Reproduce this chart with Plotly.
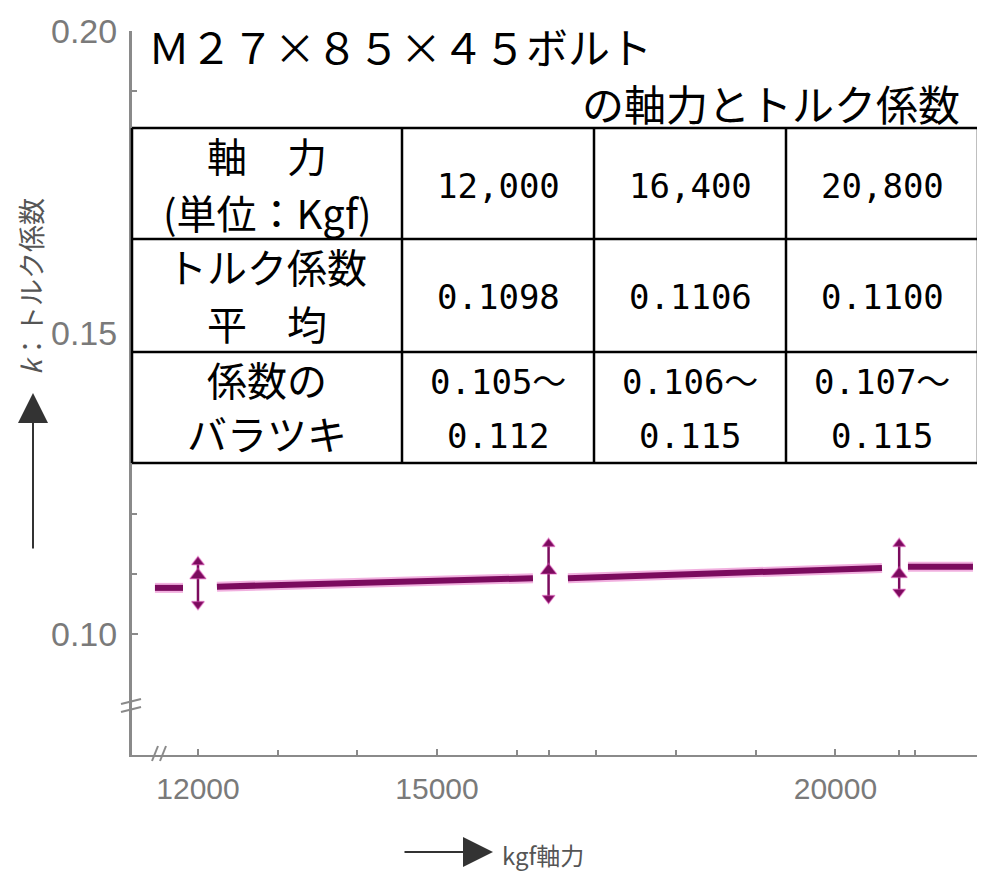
import plotly.graph_objects as go

# ---------------- data ----------------
force = [12000, 16400, 20800]            # 軸力 (kgf)
k_mean = [0.1098, 0.1106, 0.1100]        # トルク係数 平均
k_min = [0.105, 0.106, 0.107]            # バラツキ 下限
k_max = [0.112, 0.115, 0.115]            # バラツキ 上限

# trend line (broken around the error bars)
trend_x = [11460, 11812, None, 12238, 16204, None, 16643, 20584, None, 20910, 21726]
trend_y = [0.1077, 0.1077, None, 0.1079, 0.1093, None, 0.1093, 0.1110, None, 0.1112, 0.1112]

x_tick_vals = [12000, 15000, 20000]
x_tick_text = ["12000", "15000", "20000"]
x_minor_vals = [13000, 14000, 16000, 16400, 17000, 18000, 19000, 20800, 21000]
y_tick_vals = [0.10, 0.15, 0.20]
y_tick_text = ["0.10", "0.15", "0.20"]
y_minor_vals = [0.11, 0.12, 0.13, 0.14, 0.16, 0.17, 0.18, 0.19]

title_line1 = "Ｍ２７×８５×４５ボルト"
title_line2 = "の軸力とトルク係数"
row_labels = [["軸　力", "(単位：Kgf)"], ["トルク係数", "平　均"], ["係数の", "バラツキ"]]
y_title = "<i>k</i>：トルク係数"
x_title = "kgf軸力"

# ---------------- layout helpers ----------------
# the page body adds an 8px margin, so the figure is drawn 8px smaller
OFF = 8
W, H = 985 - OFF, 871 - OFF
ML, MR, MT = 132 - OFF, 0, 31 - OFF
MB = H - (755 - OFF)
PW, PH = W - ML - MR, H - MT - MB


def px(x):
    """reference-image pixel x -> paper fraction"""
    return (x - OFF - ML) / PW


def py(y):
    """reference-image pixel y -> paper fraction"""
    return (H - MB - (y - OFF)) / PH


JP = "Noto Sans CJK JP"
MONO = "DejaVu Sans Mono, Noto Sans CJK JP"
PURPLE = "#7b0b5e"
HALO = "rgba(225,80,185,0.45)"
AXIS = "#8a8a8a"

fig = go.Figure()

# trend line (halo + core)
fig.add_trace(go.Scatter(x=trend_x, y=trend_y, mode="lines",
                         line=dict(color=HALO, width=10), hoverinfo="skip",
                         showlegend=False))
fig.add_trace(go.Scatter(x=trend_x, y=trend_y, mode="lines",
                         line=dict(color=PURPLE, width=6), showlegend=False))

# scatter range bars
fig.add_trace(go.Scatter(
    x=force, y=k_mean, mode="markers", showlegend=False,
    marker=dict(symbol="triangle-up", size=14, color=PURPLE,
                line=dict(color=HALO, width=1.5)),
    error_y=dict(type="data", symmetric=False,
                 array=[a - m for a, m in zip(k_max, k_mean)],
                 arrayminus=[m - b for m, b in zip(k_mean, k_min)],
                 width=0, thickness=2.5, color=PURPLE)))
fig.add_trace(go.Scatter(
    x=force, y=k_max, mode="markers", showlegend=False,
    marker=dict(symbol="triangle-up", size=11, color=PURPLE,
                line=dict(color=HALO, width=1.5))))
fig.add_trace(go.Scatter(
    x=force, y=k_min, mode="markers", showlegend=False,
    marker=dict(symbol="triangle-down", size=11, color=PURPLE,
                line=dict(color=HALO, width=1.5))))

annotations = []
shapes = []

# titles
annotations.append(dict(text=title_line1, x=px(146), y=py(45), xref="paper", yref="paper",
                        xanchor="left", yanchor="middle", showarrow=False,
                        font=dict(family=JP, size=42, color="black")))
annotations.append(dict(text=title_line2, x=px(962), y=py(103), xref="paper", yref="paper",
                        xanchor="right", yanchor="middle", showarrow=False,
                        font=dict(family=JP, size=42, color="black")))

# table geometry (reference pixels)
col_edges = [132, 402, 594, 786, 978]
row_edges = [128, 239, 352, 463]
shapes.append(dict(type="rect", xref="paper", yref="paper",
                   x0=px(col_edges[0]), x1=px(col_edges[-1]),
                   y0=py(row_edges[0]), y1=py(row_edges[-1]),
                   fillcolor="white", line=dict(width=0), layer="above"))
for yy in row_edges:
    shapes.append(dict(type="line", xref="paper", yref="paper",
                       x0=px(col_edges[0]), x1=px(col_edges[-1]), y0=py(yy), y1=py(yy),
                       line=dict(color="black", width=2.5), layer="above"))
for xx in col_edges:
    shapes.append(dict(type="line", xref="paper", yref="paper",
                       x0=px(xx), x1=px(xx), y0=py(row_edges[0]), y1=py(row_edges[-1]),
                       line=dict(color="black", width=2.5), layer="above"))

col_centers = [(col_edges[i] + col_edges[i + 1]) / 2 for i in range(4)]
label_line_y = [[155, 212], [266, 323], [379, 433]]
for lines, ys in zip(row_labels, label_line_y):
    for t, yy in zip(lines, ys):
        annotations.append(dict(text=t, x=px(col_centers[0]), y=py(yy), xref="paper", yref="paper",
                                xanchor="center", yanchor="middle", showarrow=False,
                                font=dict(family=JP, size=40, color="black")))

for i in range(3):
    cx = px(col_centers[i + 1])
    annotations.append(dict(text=f"{force[i]:,}", x=cx, y=py(186), xref="paper", yref="paper",
                            xanchor="center", yanchor="middle", showarrow=False,
                            font=dict(family=MONO, size=34, color="black")))
    annotations.append(dict(text=f"{k_mean[i]:.4f}", x=cx, y=py(297), xref="paper", yref="paper",
                            xanchor="center", yanchor="middle", showarrow=False,
                            font=dict(family=MONO, size=34, color="black")))
    annotations.append(dict(text=f"{k_min[i]:.3f}～", x=cx, y=py(382), xref="paper", yref="paper",
                            xanchor="center", yanchor="middle", showarrow=False,
                            font=dict(family=MONO, size=34, color="black")))
    annotations.append(dict(text=f"{k_max[i]:.3f}", x=cx, y=py(436), xref="paper", yref="paper",
                            xanchor="center", yanchor="middle", showarrow=False,
                            font=dict(family=MONO, size=34, color="black")))

# y-axis title + arrow
annotations.append(dict(text=y_title, x=px(30), y=py(287), xref="paper", yref="paper",
                        xanchor="center", yanchor="middle", showarrow=False, textangle=-90,
                        font=dict(family=JP, size=27, color="#555555")))
annotations.append(dict(text="", x=px(33), y=py(393), xref="paper", yref="paper",
                        showarrow=True, ax=0, ay=157, arrowhead=2, arrowsize=3,
                        arrowwidth=2, arrowcolor="#333333", standoff=0))

# x-axis title + arrow
annotations.append(dict(text="", x=px(493), y=py(852), xref="paper", yref="paper",
                        showarrow=True, ax=-90, ay=0, arrowhead=2, arrowsize=3,
                        arrowwidth=2, arrowcolor="#333333", standoff=0))
annotations.append(dict(text=x_title, x=px(500), y=py(854), xref="paper", yref="paper",
                        xanchor="left", yanchor="middle", showarrow=False,
                        font=dict(family=JP, size=24, color="#555555")))

# axis break marks
for (x0, y0, x1, y1) in [(121, 704, 141, 699), (121, 712, 141, 707),
                         (152, 761, 158, 746), (160, 761, 166, 746)]:
    shapes.append(dict(type="line", xref="paper", yref="paper",
                       x0=px(x0), y0=py(y0), x1=px(x1), y1=py(y1),
                       line=dict(color=AXIS, width=2)))

fig.update_layout(
    width=W, height=H, autosize=False,
    margin=dict(l=ML, r=MR, t=MT, b=MB, pad=0),
    paper_bgcolor="white", plot_bgcolor="white",
    showlegend=False,
    annotations=annotations, shapes=shapes,
    xaxis=dict(range=[11172, 21877], showline=True, linecolor=AXIS, linewidth=2,
               ticks="inside", ticklen=6, tickwidth=1.5, tickcolor=AXIS,
               tickmode="array", tickvals=x_tick_vals, ticktext=x_tick_text,
               tickfont=dict(family="Liberation Sans", size=30, color="#7a7a7a"),
               ticklabelstandoff=6,
               minor=dict(tickmode="array", tickvals=x_minor_vals, ticks="inside",
                          ticklen=5, tickwidth=1.5, tickcolor=AXIS),
               showgrid=False, zeroline=False),
    yaxis=dict(range=[0.08, 0.20], showline=True, linecolor=AXIS, linewidth=3,
               ticks="inside", ticklen=6, tickwidth=1.5, tickcolor=AXIS,
               tickmode="array", tickvals=y_tick_vals, ticktext=y_tick_text,
               tickfont=dict(family="Liberation Sans", size=34, color="#7a7a7a"),
               ticklabelstandoff=5,
               minor=dict(tickmode="array", tickvals=y_minor_vals, ticks="inside",
                          ticklen=5, tickwidth=1.5, tickcolor=AXIS),
               showgrid=False, zeroline=False),
)

fig.write_html("out.html")
